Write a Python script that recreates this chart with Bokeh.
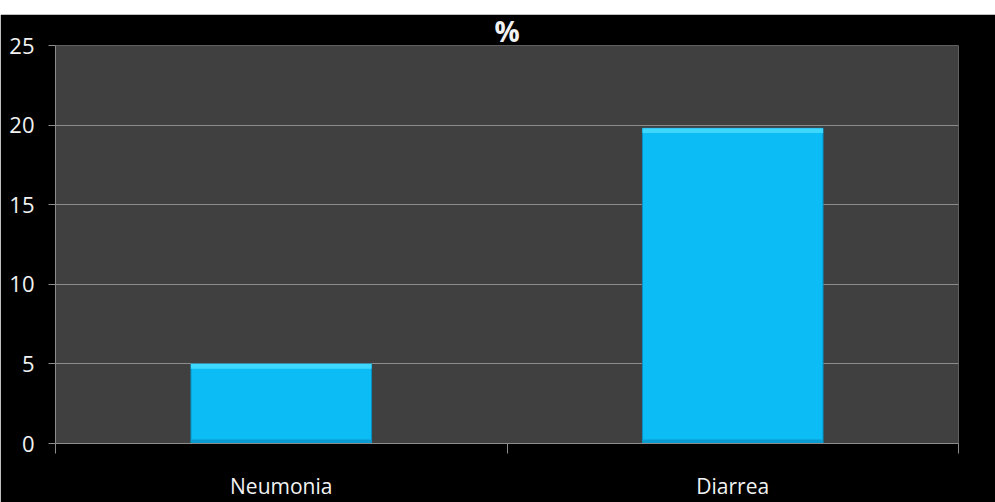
from bokeh.plotting import figure
from bokeh.models import (Range1d, LinearAxis, FixedTicker, Legend, LegendItem, Spacer)
from bokeh.layouts import column
from bokeh.embed import file_html
from bokeh.resources import INLINE

categories = ["Neumonia", "Diarrea"]
values = [5, 19.8]
series_name = "%"
title_text = "%"
y_ticks = [0, 5, 10, 15, 20, 25]

FONT = "Open Sans"
TXT = "#f2f2f2"
GRID = "#8c8c8c"

n = len(categories)
centers = [i + 0.5 for i in range(n)]
edges = list(range(n + 1))

p = figure(width=995, height=488, x_range=Range1d(0, n), y_range=Range1d(0, 25),
           output_backend="svg", toolbar_location=None, x_axis_location=None, y_axis_location=None,
           min_border_left=55, min_border_right=37, min_border_top=31, min_border_bottom=59)
p.background_fill_color = "#404040"
p.border_fill_color = "black"
p.outline_line_color = None

p.title.text = title_text
p.title.align = "center"
p.title.text_color = TXT
p.title.text_font = FONT
p.title.text_font_style = "bold"
p.title.text_font_size = "28px"
p.title.standoff = -9
p.title.offset = 0

# y axis
yax = LinearAxis(ticker=FixedTicker(ticks=y_ticks))
yax.axis_line_color = GRID
yax.major_tick_line_color = GRID
yax.major_tick_out = 7
yax.major_tick_in = 0
yax.minor_tick_line_color = None
yax.major_label_standoff = 14
yax.major_label_text_color = TXT
yax.major_label_text_font = FONT
yax.major_label_text_font_size = "22px"
p.add_layout(yax, "left")

# edge ticks axis (no labels)
eax = LinearAxis(ticker=FixedTicker(ticks=edges),
                 major_label_overrides={e: "" for e in edges})
eax.axis_line_color = GRID
eax.major_tick_line_color = GRID
eax.major_tick_out = 10
eax.major_tick_in = 0
eax.minor_tick_line_color = None
eax.major_label_text_color = None
eax.major_label_standoff = 0
p.add_layout(eax, "below")

# category label axis
cax = LinearAxis(ticker=FixedTicker(ticks=centers),
                 major_label_overrides={c: lab for c, lab in zip(centers, categories)})
cax.axis_line_color = None
cax.major_tick_line_color = None
cax.major_tick_out = 0
cax.major_tick_in = 0
cax.minor_tick_line_color = None
cax.major_label_standoff = 18
cax.major_label_text_color = TXT
cax.major_label_text_font = FONT
cax.major_label_text_font_size = "21px"
p.add_layout(cax, "below")

p.ygrid.ticker = FixedTicker(ticks=y_ticks)
p.ygrid.grid_line_color = GRID
p.xgrid.grid_line_color = None

bots_hi = [v - 0.3 for v in values]
bar = p.vbar(x=centers, top=values, width=0.4, fill_color="#0BBCF5", line_color="#0A8FC0", line_width=1)
p.vbar(x=centers, top=values, bottom=bots_hi, width=0.4, fill_color="#3ED8FF", line_color=None)
p.vbar(x=centers, top=[0.25] * n, bottom=[0] * n, width=0.4, fill_color="#0A9BD0", line_color=None)

legend = Legend(items=[LegendItem(label=series_name, renderers=[bar])], location=(913, 108),
                orientation="vertical", padding=0, margin=0, spacing=0,
                glyph_width=12, glyph_height=15, label_standoff=6,
                background_fill_alpha=0, border_line_color=None,
                label_text_color=TXT, label_text_font=FONT, label_text_font_size="20px")
p.add_layout(legend, "center")

layout = column(Spacer(width=995, height=14), p, spacing=0)
open("out.html", "w").write(file_html(layout, INLINE))
